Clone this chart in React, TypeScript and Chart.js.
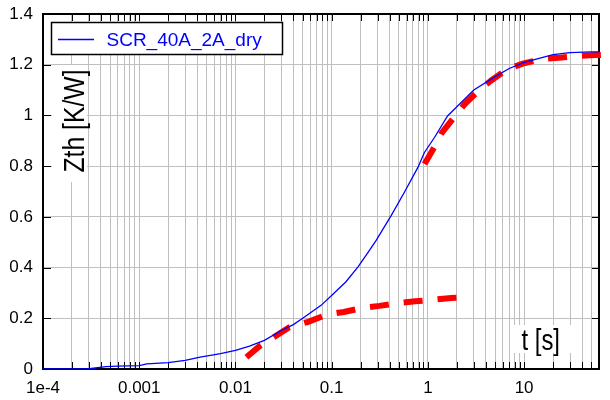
import { useEffect, useRef } from "react";
import { Chart, registerables } from "chart.js";

Chart.register(...registerables);

// ---- data ----
const seriesLabel = "SCR_40A_2A_dry";
const yTitle = "Zth [K/W]";
const xTitle = "t [s]";

const blueT = [1e-4, 2.9e-4, 3.5e-4, 4.5e-4, 6e-4, 0.001, 0.0012, 0.002, 0.003, 0.0043, 0.007, 0.01, 0.014, 0.02, 0.03, 0.04, 0.05, 0.0776, 0.103, 0.14, 0.187, 0.24, 0.29, 0.415, 0.57, 0.787, 0.92, 1.17, 1.6, 2, 3, 5, 7, 10, 20, 30, 50, 60];
const blueZ = [0, 0, 0.004, 0.009, 0.011, 0.013, 0.02, 0.025, 0.034, 0.047, 0.061, 0.073, 0.09, 0.113, 0.152, 0.175, 0.2, 0.251, 0.295, 0.343, 0.402, 0.461, 0.507, 0.605, 0.697, 0.795, 0.854, 0.913, 0.998, 1.034, 1.1, 1.153, 1.185, 1.209, 1.24, 1.248, 1.251, 1.251];

const fit1T = [0.013, 0.0175, 0.025, 0.036, 0.057, 0.0905, 0.134, 0.214, 0.314, 0.507, 0.738, 1.2, 1.75, 2.0];
const fit1Z = [0.046, 0.088, 0.125, 0.164, 0.186, 0.215, 0.225, 0.242, 0.249, 0.261, 0.267, 0.274, 0.28, 0.281];

const fit2T = [0.922, 1.17, 1.4, 1.89, 2.4, 3.39, 4.55, 6.78, 9.67, 15.7, 22.8, 36.3, 54.8, 80];
const fit2Z = [0.808, 0.876, 0.932, 0.995, 1.044, 1.099, 1.138, 1.184, 1.204, 1.223, 1.227, 1.235, 1.238, 1.24];

const X_MIN = 1e-4;
const X_MAX = 60;
const xDecades = [1e-4, 1e-3, 1e-2, 1e-1, 1, 10];
const xTickLabels = ["1e-4", "0.001", "0.01", "0.1", "1", "10"];
const yTickValues = [0, 0.2, 0.4, 0.6, 0.8, 1, 1.2, 1.4];
const yTickLabels = ["0", "0.2", "0.4", "0.6", "0.8", "1", "1.2", "1.4"];

const FONT = '"Liberation Sans", Arial, Helvetica, sans-serif';
const BLUE = "#0000ff";
const RED = "#ff0000";
const GRID = "#bfbfbf";

const xGridValues = xDecades
  .flatMap((d) => [1, 2, 3, 4, 5, 6, 7, 8, 9].map((m) => d * m))
  .filter((v) => v <= X_MAX * 1.0001);

const toPts = (xs: number[], ys: number[]) => xs.map((x, i) => ({ x, y: ys[i] }));

const frame = {
  id: "frame",
  beforeDatasetsDraw(chart: any) {
    const { ctx, chartArea: a, scales } = chart;
    const xs = scales.x;
    const ys = scales.y;
    ctx.save();
    ctx.strokeStyle = "#000";
    ctx.lineWidth = 1;
    const tl = 7;
    ctx.beginPath();
    xs.ticks.forEach((t: any) => {
      const px = Math.round(xs.getPixelForValue(t.value)) + 0.5;
      ctx.moveTo(px, a.bottom);
      ctx.lineTo(px, a.bottom - tl);
      ctx.moveTo(px, a.top);
      ctx.lineTo(px, a.top + tl);
    });
    ys.ticks.forEach((t: any) => {
      const py = Math.round(ys.getPixelForValue(t.value)) + 0.5;
      ctx.moveTo(a.left, py);
      ctx.lineTo(a.left + tl + 1, py);
      ctx.moveTo(a.right, py);
      ctx.lineTo(a.right - tl, py);
    });
    ctx.stroke();
    ctx.lineWidth = 2;
    ctx.strokeRect(a.left, a.top, a.right - a.left, a.bottom - a.top);
    ctx.restore();
  },
  afterDatasetsDraw(chart: any) {
    const { ctx } = chart;
    ctx.save();
    // white boxes behind axis titles
    ctx.fillStyle = "#fff";
    ctx.fillRect(52, 65, 35, 117);
    ctx.fillRect(511, 325, 64, 28);

    // y title (rotated, condensed)
    ctx.fillStyle = "#000";
    ctx.font = "30px " + FONT;
    ctx.textAlign = "center";
    ctx.textBaseline = "alphabetic";
    let w = ctx.measureText(yTitle).width;
    ctx.save();
    ctx.translate(84, 121);
    ctx.rotate(-Math.PI / 2);
    ctx.scale(103 / w, 1);
    ctx.fillText(yTitle, 0, 0);
    ctx.restore();

    // x title
    w = ctx.measureText(xTitle).width;
    ctx.save();
    ctx.translate(521.5, 349.5);
    ctx.scale(38.5 / w, 1);
    ctx.textAlign = "left";
    ctx.fillText(xTitle, 0, 0);
    ctx.restore();

    // legend box
    const ds = chart.data.datasets[0];
    ctx.fillStyle = "#fff";
    ctx.fillRect(51, 22, 232, 33);
    ctx.strokeStyle = "#000";
    ctx.lineWidth = 1.5;
    ctx.strokeRect(51.5, 22.5, 231, 32);
    ctx.strokeStyle = ds.borderColor;
    ctx.lineWidth = 1.3;
    ctx.beginPath();
    ctx.moveTo(58, 39.5);
    ctx.lineTo(94, 39.5);
    ctx.stroke();
    ctx.fillStyle = ds.borderColor;
    ctx.font = "19px " + FONT;
    ctx.textAlign = "left";
    ctx.fillText(ds.label, 106.5, 45.8);
    ctx.restore();
  },
};

export default function App() {
  const ref = useRef<HTMLCanvasElement | null>(null);
  useEffect(() => {
    if (!ref.current) return;
    const chart = new Chart(ref.current, {
      type: "line",
      data: {
        datasets: [
          {
            label: seriesLabel,
            data: toPts(blueT, blueZ),
            borderColor: BLUE,
            borderWidth: 1.3,
            pointRadius: 0,
            tension: 0,
          },
          {
            label: "fit1",
            data: toPts(fit1T, fit1Z),
            borderColor: RED,
            borderWidth: 6,
            borderDash: [19, 15],
            borderCapStyle: "butt",
            pointRadius: 0,
            tension: 0,
          },
          {
            label: "fit2",
            data: toPts(fit2T, fit2Z),
            borderColor: RED,
            borderWidth: 6,
            borderDash: [19, 15],
            borderCapStyle: "butt",
            pointRadius: 0,
            tension: 0,
            clip: { left: 0, top: 0, right: 20, bottom: 0 },
          } as any,
        ],
      },
      options: {
        animation: false,
        responsive: false,
        devicePixelRatio: 1,
        layout: { padding: { top: 14, right: 11, left: 0, bottom: 0 } },
        plugins: { legend: { display: false }, tooltip: { enabled: false } },
        scales: {
          x: {
            type: "logarithmic",
            min: X_MIN,
            max: X_MAX,
            afterFit(s: any) {
              s.height = 31;
              s.paddingLeft = 0;
              s.paddingRight = 0;
            },
            afterBuildTicks(s: any) {
              s.ticks = xGridValues.map((v) => ({ value: v }));
            },
            grid: { color: GRID, lineWidth: 1, drawTicks: false },
            border: { display: false },
            ticks: {
              autoSkip: false,
              maxRotation: 0,
              padding: 9,
              color: "#000",
              font: { family: FONT, size: 17 },
              callback: (v: any) => {
                const i = xDecades.findIndex((d) => Math.abs(Number(v) / d - 1) < 1e-6);
                return i >= 0 ? xTickLabels[i] : "";
              },
            },
          },
          y: {
            min: 0,
            max: 1.4,
            afterFit(s: any) {
              s.width = 43;
              s.paddingTop = 0;
              s.paddingBottom = 0;
            },
            afterBuildTicks(s: any) {
              s.ticks = yTickValues.map((v) => ({ value: v }));
            },
            grid: { color: GRID, lineWidth: 1, drawTicks: false },
            border: { display: false },
            ticks: {
              padding: 10,
              color: "#000",
              font: { family: FONT, size: 17 },
              callback: (_v: any, i: number) => yTickLabels[i],
            },
          },
        },
      },
      plugins: [frame],
    } as any);
    return () => chart.destroy();
  }, []);
  return (
    <div style={{ position: "absolute", left: 0, top: 0, width: 610, height: 400, background: "#fff" }}>
      <canvas ref={ref} width={610} height={400} />
    </div>
  );
}
